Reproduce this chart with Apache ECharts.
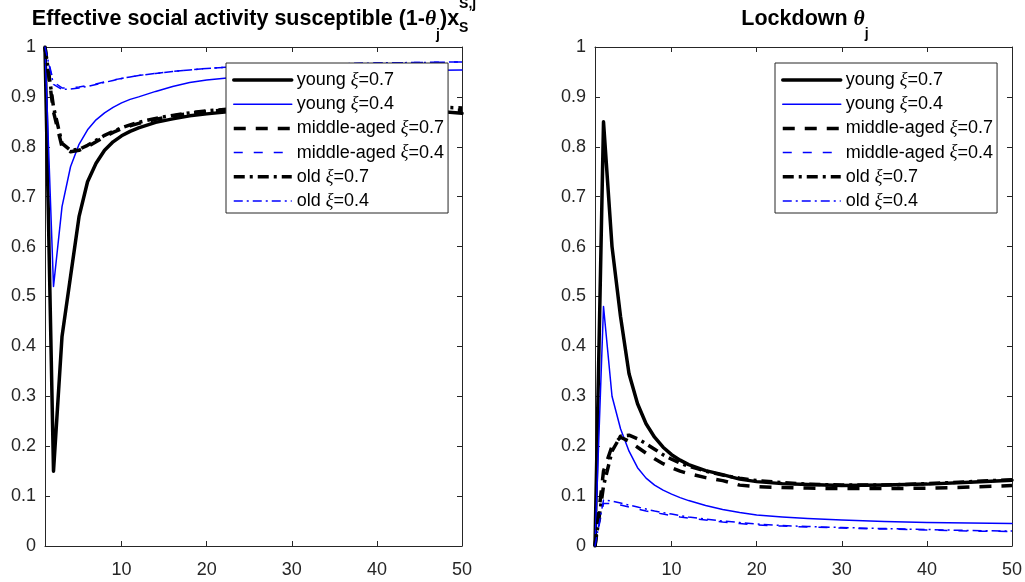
<!DOCTYPE html>
<html><head><meta charset="utf-8">
<script src="https://cdn.jsdelivr.net/npm/echarts@6/dist/echarts.min.js"></script>
<style>html,body{margin:0;padding:0;background:#fff}#c{width:1025px;height:582px}</style>
</head><body><div id="c"></div>
<script>
// ---------------- data ----------------
const X = [1,2,3,4,5,6,7,8,9,10,11,12,14,16,18,20,23,26,30,35,40,45,50];
const seriesNames = ['young ξ=0.7','young ξ=0.4','middle-aged ξ=0.7','middle-aged ξ=0.4','old ξ=0.7','old ξ=0.4'];
const xTickValues = [10,20,30,40,50];

// Left panel: effective social activity susceptible
const L_young07 = [1.0,0.15,0.42,0.54,0.66,0.73,0.767,0.793,0.81,0.822,0.831,0.838,0.849,0.856,0.862,0.866,0.871,0.874,0.877,0.878,0.877,0.874,0.867];
const L_young04 = [1.0,0.52,0.68,0.76,0.805,0.834,0.854,0.868,0.879,0.888,0.895,0.90,0.911,0.921,0.929,0.934,0.939,0.943,0.946,0.949,0.951,0.953,0.954];
const L_mid07   = [1.0,0.87,0.80,0.79,0.793,0.80,0.81,0.82,0.829,0.836,0.842,0.847,0.855,0.862,0.867,0.871,0.875,0.877,0.879,0.880,0.879,0.877,0.873];
const L_mid04   = [1.0,0.93,0.918,0.918,0.92,0.923,0.926,0.93,0.934,0.937,0.94,0.943,0.947,0.951,0.954,0.957,0.96,0.962,0.964,0.966,0.968,0.969,0.97];
const L_old07   = [1.0,0.88,0.807,0.793,0.795,0.803,0.813,0.823,0.831,0.838,0.844,0.849,0.857,0.863,0.868,0.872,0.876,0.878,0.880,0.881,0.881,0.880,0.878];
const L_old04   = [1.0,0.925,0.915,0.916,0.918,0.921,0.925,0.929,0.933,0.937,0.94,0.943,0.947,0.951,0.954,0.957,0.96,0.962,0.964,0.966,0.968,0.969,0.97];

// Right panel: lockdown theta_j
const R_young07 = [0,0.85,0.60,0.46,0.345,0.285,0.245,0.218,0.198,0.183,0.172,0.163,0.151,0.143,0.134,0.129,0.125,0.123,0.121,0.122,0.124,0.128,0.132];
const R_young04 = [0,0.48,0.30,0.235,0.19,0.157,0.136,0.122,0.112,0.104,0.097,0.091,0.081,0.073,0.067,0.062,0.058,0.055,0.052,0.049,0.047,0.046,0.045];
const R_mid07   = [0,0.15,0.20,0.218,0.21,0.198,0.186,0.175,0.165,0.157,0.15,0.145,0.137,0.131,0.122,0.119,0.117,0.116,0.115,0.115,0.116,0.118,0.121];
const R_mid04   = [0,0.085,0.085,0.082,0.078,0.074,0.07,0.067,0.064,0.061,0.058,0.056,0.052,0.048,0.045,0.042,0.04,0.038,0.036,0.034,0.032,0.03,0.029];
const R_old07   = [0,0.12,0.19,0.22,0.222,0.215,0.205,0.194,0.183,0.174,0.166,0.16,0.15,0.142,0.136,0.131,0.127,0.124,0.122,0.122,0.125,0.129,0.133];
const R_old04   = [0,0.092,0.09,0.086,0.082,0.078,0.074,0.07,0.067,0.064,0.061,0.058,0.054,0.05,0.047,0.044,0.041,0.039,0.037,0.035,0.033,0.031,0.03];

const leftSets  = [L_young07, L_young04, L_mid07, L_mid04, L_old07, L_old04];
const rightSets = [R_young07, R_young04, R_mid07, R_mid04, R_old07, R_old04];

// ---------------- styles ----------------
const SANS = '"Liberation Sans", Arial, Helvetica, sans-serif';
const SERIF = '"Liberation Serif", "DejaVu Serif", serif';
const AX = '#262626';
const lineStyles = [
  {color:'#000000', width:3.5, type:'solid'},
  {color:'#0000ff', width:1.5, type:'solid'},
  {color:'#000000', width:3.5, type:[12,10]},
  {color:'#0000ff', width:1.5, type:[9,11]},
  {color:'#000000', width:3.5, type:[11,5,3,5]},
  {color:'#0000ff', width:1.5, type:[9,4,2,4]}
];

const chart = echarts.init(document.getElementById('c'), null, {renderer:'canvas'});

const grids = [
  {left:45, top:47, width:417, height:499},
  {left:595, top:47, width:417, height:499}
];

function xAx(gi, pos) {
  return {
    type:'value', gridIndex:gi, position:pos, min:1, max:50,
    axisLine:{show:true, onZero:false, lineStyle:{color:AX, width:1}},
    axisTick:{show:true, inside:true, length:5, customValues:xTickValues, lineStyle:{color:AX}},
    axisLabel:{show:pos==='bottom', customValues:xTickValues, fontSize:18, fontFamily:SANS, color:AX, margin:15},
    splitLine:{show:false}
  };
}
function yAx(gi, pos) {
  return {
    type:'value', gridIndex:gi, position:pos, min:0, max:1, interval:0.1,
    axisLine:{show:true, onZero:false, lineStyle:{color:AX, width:1}},
    axisTick:{show:true, inside:true, length:5, lineStyle:{color:AX}},
    axisLabel:{show:pos==='left', fontSize:18, fontFamily:SANS, color:AX, margin:9,
      formatter:v => String(Math.round(v*10)/10)},
    splitLine:{show:false}
  };
}

const series = [];
[leftSets, rightSets].forEach((sets, gi) => {
  sets.forEach((vals, k) => {
    const ls = lineStyles[k];
    series.push({
      type:'line', name:seriesNames[k], xAxisIndex:gi*2, yAxisIndex:gi*2,
      data:X.map((x,i) => [x, vals[i]]),
      symbol:'none', showSymbol:false, smooth:false, animation:false,
      lineStyle:{color:ls.color, width:ls.width, type:ls.type, join:'round', cap: ls.type==='solid' ? 'round' : 'butt'},
      itemStyle:{color:ls.color},
      emphasis:{disabled:true}, z:2+k
    });
  });
});

function legend(left) {
  return {
    orient:'vertical', left:left, top:63,
    data:seriesNames.map((n,k) => ({name:n, lineStyle:{color:lineStyles[k].color, width:lineStyles[k].width, type:lineStyles[k].type}, itemStyle:{opacity:0}})),
    backgroundColor:'#ffffff', borderColor:AX, borderWidth:1, borderRadius:0,
    padding:[7,4,2,6], itemWidth:58, itemHeight:20, itemGap:4.2,
    selectedMode:false, itemStyle:{opacity:0},
    textStyle:{fontSize:18, fontFamily:SANS, color:'#000', lineHeight:20,
      rich:{t:{fontSize:18, fontFamily:SANS, color:'#000', lineHeight:20},
            g:{fontSize:18, fontFamily:SERIF, fontStyle:'italic', color:'#000', lineHeight:20}}},
    formatter:name => { const p = name.split('ξ'); return '{t|' + p[0] + '}{g|ξ}{t|' + p[1] + '}'; },
    z:10
  };
}

// -------- titles with sub/superscripts (text laid out by measuring) --------
const mctx = document.createElement('canvas').getContext('2d');
function fontStr(p){ return (p.style||'normal') + ' ' + (p.weight||'bold') + ' ' + p.fs + 'px ' + (p.fam||SANS); }
function measure(p){ mctx.font = fontStr(p); return mctx.measureText(p.text).width; }
function buildTitle(pieces, centerX, baseY) {
  let widths = pieces.map(p => p.stack ? Math.max(...p.stack.map(measure)) : measure(p));
  let total = widths.reduce((a,b)=>a+b,0);
  let x = centerX - total/2;
  const els = [];
  pieces.forEach((p,i) => {
    const items = p.stack ? p.stack : [p];
    items.forEach(q => {
      els.push({type:'text', x:x, y: baseY + (q.dy||0) - 0.35*q.fs, z:20,
        style:{text:q.text, fill:'#000', font:fontStr(q), align:'left', verticalAlign:'middle'}});
    });
    x += widths[i];
  });
  return els;
}
const leftTitle = buildTitle([
  {text:'Effective social activity susceptible (1-', fs:21.5},
  {text:'θ', fs:21.5, fam:SERIF, style:'italic'},
  {text:'j', fs:14, dy:13},
  {text:')x', fs:21.5},
  {stack:[{text:'S,j', fs:14, dy:-18},{text:'S', fs:14, dy:6}]}
], 254, 27);
const rightTitle = buildTitle([
  {text:'Lockdown ', fs:21.5},
  {text:'θ', fs:21.5, fam:SERIF, style:'italic'},
  {text:'j', fs:14, dy:12}
], 805, 27);

chart.setOption({
  backgroundColor:'#ffffff',
  animation:false,
  grid:grids,
  xAxis:[xAx(0,'bottom'), xAx(0,'top'), xAx(1,'bottom'), xAx(1,'top')],
  yAxis:[yAx(0,'left'), yAx(0,'right'), yAx(1,'left'), yAx(1,'right')],
  legend:[legend(226), legend(775)],
  series:series,
  graphic:leftTitle.concat(rightTitle)
});
</script></body></html>
